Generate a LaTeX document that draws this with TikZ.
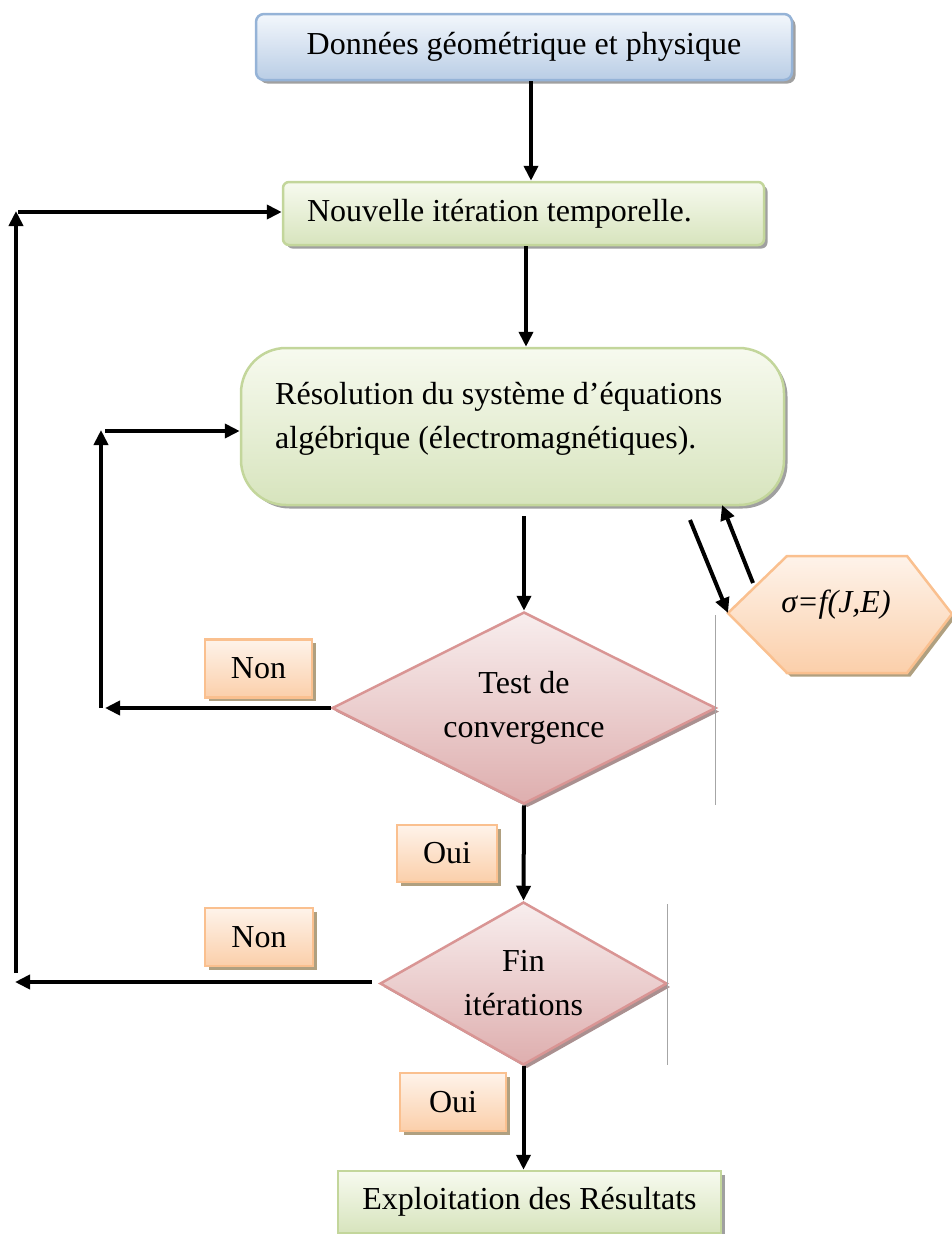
\documentclass[tikz,border=0pt]{standalone}
\usepackage{fontspec}
\setmainfont{Liberation Serif}
\usetikzlibrary{shapes.geometric,shadows,arrows.meta}
\definecolor{bluetop}{HTML}{F3F7FC}
\definecolor{bluebot}{HTML}{B9CDE5}
\definecolor{blueline}{HTML}{95B3D7}
\definecolor{greentop}{HTML}{F7FAEF}
\definecolor{greenbot}{HTML}{D7E4BD}
\definecolor{greenline}{HTML}{C3D69B}
\definecolor{pinktop}{HTML}{F8EEEE}
\definecolor{pinkbot}{HTML}{DEAEAE}
\definecolor{pinkline}{HTML}{D99594}
\definecolor{orangetop}{HTML}{FEF3EA}
\definecolor{orangebot}{HTML}{FBCFAA}
\definecolor{orangeline}{HTML}{FAC08F}
\definecolor{shadowgray}{HTML}{A0A0A0}
\definecolor{shadowbrown}{HTML}{B0A080}
\begin{document}
\begin{tikzpicture}[x=1pt,y=-1pt,
  txt/.style={font=\fontsize{32}{44}\selectfont},
  shad/.style={drop shadow={shadow xshift=3.5pt,shadow yshift=-3.5pt,fill=#1,opacity=1}},
  bluebox/.style={txt,draw=blueline,line width=2.5pt,rounded corners=8pt,top color=bluetop,bottom color=bluebot,shad=shadowgray,inner sep=0pt},
  greenbox/.style={txt,draw=greenline,line width=2.5pt,top color=greentop,bottom color=greenbot,shad=shadowgray,inner sep=0pt},
  pinkdia/.style={txt,diamond,draw=pinkline,line width=2.5pt,top color=pinktop,bottom color=pinkbot,shad=shadowgray!90!red,inner sep=0pt,align=center},
  orangebox/.style={txt,draw=orangeline,line width=2.5pt,top color=orangetop,bottom color=orangebot,shad=shadowbrown,inner sep=0pt},
  arr/.style={line width=4pt,-{Triangle[length=15pt,width=14pt]}},
  thinline/.style={line width=1pt,draw=gray!70}
]
\useasboundingbox (0,0) rectangle (952,1234);

% boxes
\node[bluebox,minimum width=536pt,minimum height=66pt] (data) at (524,47) {Données géométrique et physique};
\node[greenbox,rounded corners=6pt,minimum width=481pt,minimum height=63pt,text width=433pt,inner xsep=24pt,align=flush left] (iter) at (523.5,213.5) {Nouvelle itération temporelle.};
\node[greenbox,rounded corners=45pt,minimum width=543pt,minimum height=157pt] (solve) at (512.5,426.5) {};
\node[txt,align=left,anchor=west,inner sep=0pt] (solvetxt) at (275,419) {Résolution du système d’équations\\algébrique (électromagnétiques).};
\node[pinkdia,aspect=2,minimum width=384pt,minimum height=192pt] (conv) at (524,708) {Test de\\convergence};
\node[pinkdia,aspect=1.76,minimum width=287pt,minimum height=163pt] (fin) at (523.5,983.5) {Fin\\itérations};
\node[greenbox,minimum width=383pt,minimum height=62pt] (res) at (529.5,1202) {Exploitation des Résultats};

% labels
\node[orangebox,minimum width=107pt,minimum height=58pt] (non1) at (258.5,668.5) {Non};
\node[orangebox,minimum width=100pt,minimum height=57pt] (oui1) at (447,853.5) {Oui};
\node[orangebox,minimum width=108pt,minimum height=58pt] (non2) at (259,937) {Non};
\node[orangebox,minimum width=106pt,minimum height=58pt] (oui2) at (453,1102) {Oui};

% hexagon
\coordinate (h1) at (728,613);
\coordinate (h2) at (787,556);
\coordinate (h3) at (907,556);
\coordinate (h4) at (952,614);
\coordinate (h5) at (907,673);
\coordinate (h6) at (787,673);
\fill[shadowbrown] ([shift={(3.5,3.5)}]h1) -- ([shift={(3.5,3.5)}]h2) -- ([shift={(3.5,3.5)}]h3) -- ([shift={(3.5,3.5)}]h4) -- ([shift={(3.5,3.5)}]h5) -- ([shift={(3.5,3.5)}]h6) -- cycle;
\shade[top color=orangetop,bottom color=orangebot] (h1) -- (h2) -- (h3) -- (h4) -- (h5) -- (h6) -- cycle;
\draw[orangeline,line width=2.5pt,line join=miter] (h1) -- (h2) -- (h3) -- (h4) -- (h5) -- (h6) -- cycle;
\node[txt,inner sep=0pt] (sigma) at (836,605) {\textit{σ=f(J,E)}};

% thin gray lines
\coordinate (g1) at (715,615);
\coordinate (g2) at (715,805);
\coordinate (g3) at (667,904);
\coordinate (g4) at (667,1065);
\draw[thinline] (g1) -- (g2);
\draw[thinline] (g3) -- (g4);

% main arrows
\draw[arr] ([xshift=7pt]data.south) -- ([xshift=7.5pt]iter.north);
\draw[arr] ([xshift=2.5pt]iter.south) -- ([xshift=13.5pt]solve.north);
\path (solve.south -| conv.north) ++(0,10) coordinate (s3);
\draw[arr] (s3) -- (conv.north);
\draw[arr] (conv.south) -- (fin.north);
\draw[arr] (fin.south) -- (fin.south |- res.north);

% hexagon arrows
\coordinate (e1) at (690,520);
\draw[arr] (e1) -- (h1);
\coordinate (e2) at (753,583);
\coordinate (e3) at (722,505);
\draw[arr] (e2) -- (e3);

% inner loop
\coordinate (c1) at (105,708);
\coordinate (c2) at (101,708);
\coordinate (c3) at (101,430);
\coordinate (c4) at (105,431);
\draw[arr] (conv.west) -- (c1);
\draw[arr] (c2) -- (c3);
\draw[arr] (c4) -- (c4 -| solve.west);

% outer loop
\path (fin.west) ++(-7,-1.5) coordinate (d1);
\coordinate (d2) at (15,982);
\coordinate (d3) at (16,973);
\coordinate (d4) at (16,211);
\coordinate (d5) at (18,212);
\draw[arr] (d1) -- (d2);
\draw[arr] (d3) -- (d4);
\draw[arr] (d5) -- (d5 -| iter.west);
\end{tikzpicture}
\end{document}
